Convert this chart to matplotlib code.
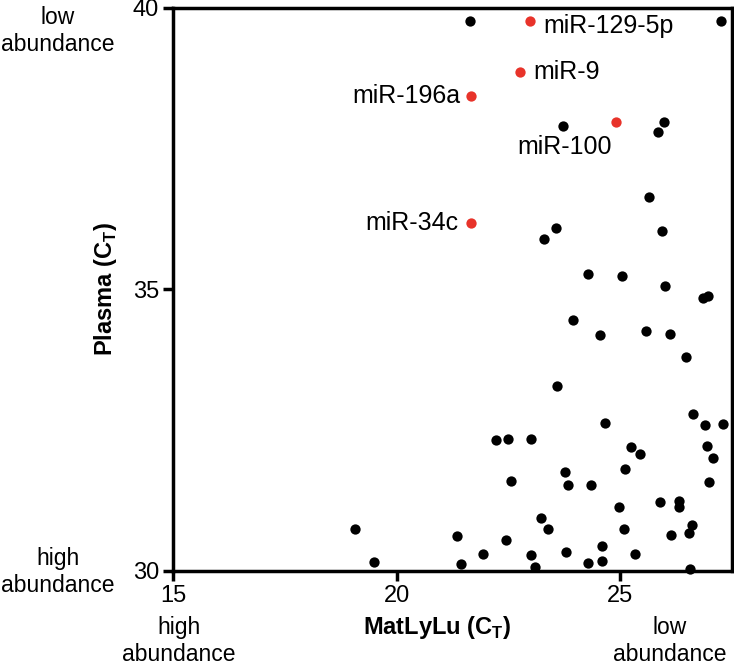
# plot.py
# MatLyLu vs plasma CT scatter with highlighted miRNAs

import matplotlib.pyplot as plt

plt.rcParams["font.family"] = ["Liberation Sans", "DejaVu Sans"]

# background miRNAs (MatLyLu CT, plasma CT)
matlylu_ct = [21.64, 27.25, 23.72, 25.99, 25.85, 25.64, 23.57, 23.30, 25.94,
              24.29, 25.04, 26.00, 26.85, 26.97, 23.95, 24.56, 25.57, 26.11,
              26.48, 23.60, 26.63, 26.91, 27.31, 24.66, 22.22, 22.50, 23.00,
              25.24, 25.45, 26.95, 27.09, 25.10, 26.98, 22.56, 23.76, 23.84,
              24.34, 25.90, 26.32, 26.32, 24.98, 23.24, 23.39, 25.08, 26.62,
              26.55, 26.15, 19.08, 21.35, 22.44, 24.59, 21.93, 23.01, 23.80,
              25.34, 19.50, 21.45, 23.10, 24.29, 24.59, 26.57]
plasma_ct = [39.77, 39.77, 37.90, 37.98, 37.79, 36.65, 36.09, 35.89, 36.03,
             35.28, 35.24, 35.06, 34.84, 34.89, 34.46, 34.20, 34.27, 34.21,
             33.80, 33.29, 32.79, 32.59, 32.61, 32.63, 32.33, 32.35, 32.34,
             32.21, 32.08, 32.22, 32.00, 31.81, 31.58, 31.60, 31.75, 31.52,
             31.53, 31.23, 31.25, 31.14, 31.13, 30.94, 30.74, 30.75, 30.82,
             30.67, 30.64, 30.74, 30.63, 30.55, 30.44, 30.30, 30.28, 30.34,
             30.31, 30.16, 30.13, 30.07, 30.14, 30.17, 30.03]

# highlighted miRNAs
hl_names = ["miR-129-5p", "miR-9", "miR-196a", "miR-100", "miR-34c"]
hl_matlylu = [22.98, 22.76, 21.67, 24.90, 21.66]
hl_plasma = [39.77, 38.87, 38.44, 37.98, 36.18]
# label offsets (points) and alignment
hl_offsets = [(10, -4), (10, 0), (-8, 0), (-37, -18), (-9, 0)]
hl_ha = ["left", "left", "right", "center", "right"]

fig = plt.figure(figsize=(7.34, 6.65), dpi=100)
ax = fig.add_axes([0.2357, 0.1414, 0.7613, 0.8466])

ax.scatter(matlylu_ct, plasma_ct, s=55, color="black", zorder=3,
           clip_on=False, linewidths=0)
ax.scatter(hl_matlylu, hl_plasma, s=55, color="#e8332a", zorder=3,
           clip_on=False, linewidths=0)

for name, x, y, off, ha in zip(hl_names, hl_matlylu, hl_plasma,
                               hl_offsets, hl_ha):
    ax.annotate(name, (x, y), xytext=off, textcoords="offset points",
                ha=ha, va="center", fontsize=18)

ax.set_xlim(15, 27.5)
ax.set_ylim(30, 40)
ax.set_xticks([15, 20, 25])
ax.set_yticks([30, 35, 40])

for side in ["left", "right", "top", "bottom"]:
    ax.spines[side].set_linewidth(2.5)
ax.tick_params(direction="out", length=7, width=2.5, labelsize=17, pad=3)

ax.set_ylabel("Plasma (C$_\\mathregular{T}$)", fontsize=17,
              fontweight="bold", labelpad=10)
fig.text(0.596, 0.056, "MatLyLu (C$_\\mathregular{T}$)", fontsize=17,
         fontweight="bold", ha="center", va="center")

# abundance annotations
fig.text(0.079, 0.953, "low\nabundance", fontsize=16.5, ha="center",
         va="center", linespacing=1.2)
fig.text(0.079, 0.14, "high\nabundance", fontsize=16.5, ha="center",
         va="center", linespacing=1.2)
fig.text(0.244, 0.036, "high\nabundance", fontsize=16.5, ha="center",
         va="center", linespacing=1.2)
fig.text(0.912, 0.036, "low\nabundance", fontsize=16.5, ha="center",
         va="center", linespacing=1.2)

fig.savefig("out.png", dpi=100)
